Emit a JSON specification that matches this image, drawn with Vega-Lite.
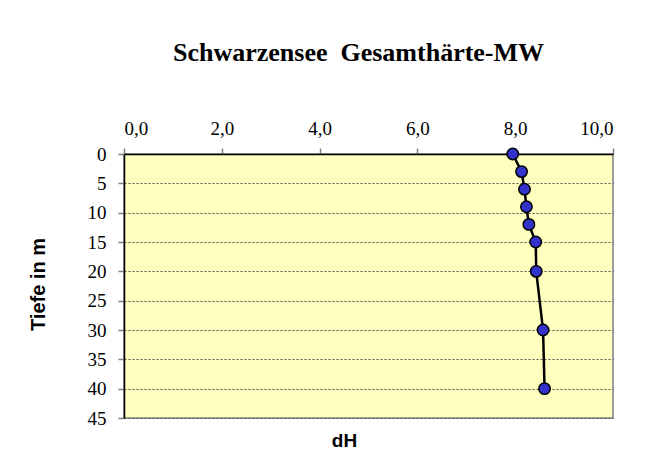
{
  "$schema": "https://vega.github.io/schema/vega-lite/v6.json",
  "autosize": "none",
  "width": 489,
  "height": 264,
  "padding": {"left": 124, "top": 154, "right": 53, "bottom": 44},
  "background": "white",
  "title": {
    "text": "Schwarzensee \u00a0Gesamthärte-MW",
    "font": "Liberation Serif",
    "fontSize": 26,
    "fontWeight": "bold",
    "color": "black",
    "anchor": "middle",
    "baseline": "alphabetic",
    "dx": -10,
    "offset": 32
  },
  "config": {
    "view": {"fill": "#FFFFC0", "stroke": "#808080", "strokeWidth": 1.5}
  },
  "data": {
    "values": [
      {"depth": 0, "dH": 7.95},
      {"depth": 3, "dH": 8.13},
      {"depth": 6, "dH": 8.19},
      {"depth": 9, "dH": 8.23},
      {"depth": 12, "dH": 8.28},
      {"depth": 15, "dH": 8.42},
      {"depth": 20, "dH": 8.43},
      {"depth": 30, "dH": 8.57},
      {"depth": 40, "dH": 8.6}
    ]
  },
  "encoding": {
    "x": {
      "field": "dH",
      "type": "quantitative",
      "scale": {"domain": [0, 10], "nice": false, "zero": true},
      "axis": {
        "orient": "top",
        "title": "dH",
        "titleFont": "Liberation Sans",
        "titleFontSize": 19,
        "titleFontWeight": "bold",
        "titleColor": "black",
        "titleX": 220,
        "titleY": 286,
        "titleAlign": "center",
        "titleBaseline": "middle",
        "values": [0, 2, 4, 6, 8, 10],
        "labelExpr": "replace(format(datum.value, '.1f'), '.', ',')",
        "labelFont": "Liberation Serif",
        "labelFontSize": 19,
        "labelColor": "black",
        "labelPadding": 10,
        "tickSize": 6,
        "tickColor": "#808080",
        "tickWidth": 1.5,
        "domainColor": "black",
        "domainWidth": 1.5,
        "grid": false
      }
    },
    "y": {
      "field": "depth",
      "type": "quantitative",
      "scale": {"domain": [0, 45], "reverse": true, "nice": false},
      "axis": {
        "title": "Tiefe in m",
        "titleFont": "Liberation Sans",
        "titleFontSize": 20,
        "titleFontWeight": "bold",
        "titleColor": "black",
        "titleAngle": -90,
        "titleX": -86,
        "titleY": 130,
        "titleAlign": "center",
        "titleBaseline": "middle",
        "values": [0, 5, 10, 15, 20, 25, 30, 35, 40, 45],
        "labelFont": "Liberation Serif",
        "labelFontSize": 19,
        "labelColor": "black",
        "labelPadding": 12,
        "tickSize": 6,
        "tickColor": "#808080",
        "tickWidth": 1.5,
        "domainColor": "black",
        "domainWidth": 1.5,
        "grid": true,
        "gridColor": "#555555",
        "gridDash": [2, 2],
        "gridWidth": 1
      }
    }
  },
  "layer": [
    {
      "mark": {"type": "line", "color": "black", "strokeWidth": 2.5},
      "encoding": {"order": {"field": "depth", "type": "quantitative"}}
    },
    {
      "mark": {"type": "point", "shape": "circle", "filled": true, "size": 130, "fill": "#3333CC", "stroke": "black", "strokeWidth": 1.5, "opacity": 1}
    }
  ]
}
